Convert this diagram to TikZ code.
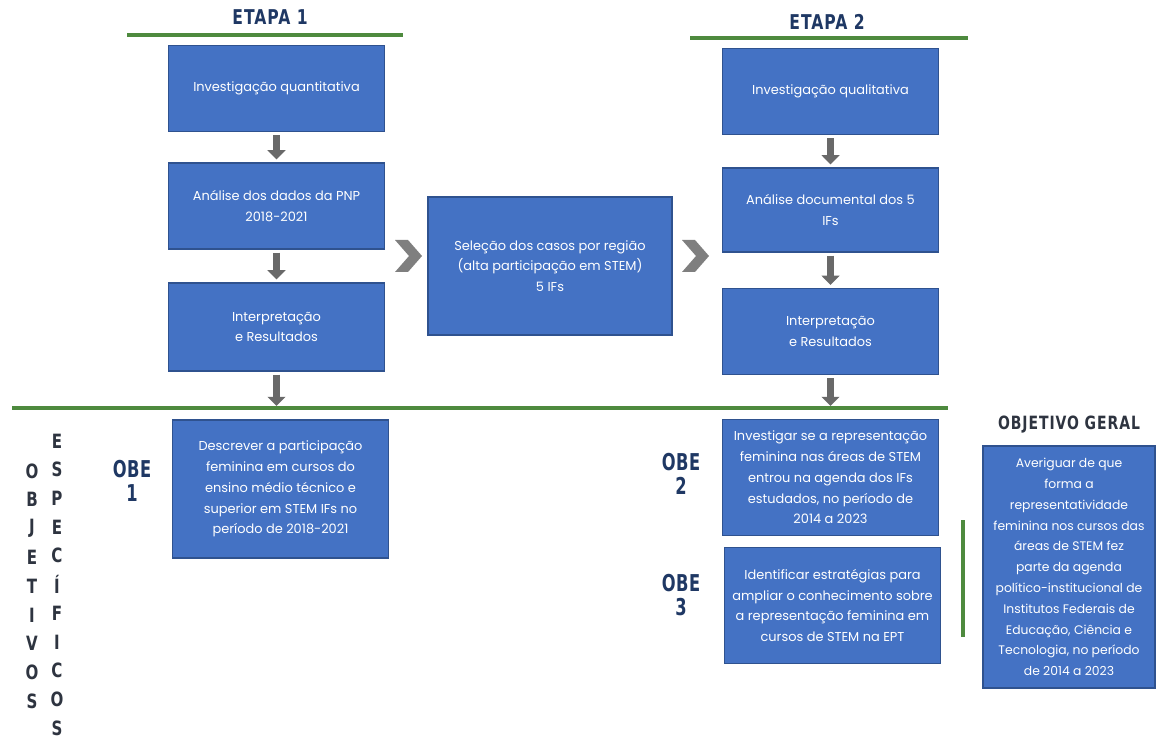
\documentclass[tikz,border=0pt]{standalone}
\usepackage{fontspec}
\setmainfont{Poppins}
\newfontfamily\headfont[FakeStretch=0.85,LetterSpace=5]{DejaVu Sans Condensed Bold}
\newfontfamily\obefont[FakeStretch=0.78,LetterSpace=2]{DejaVu Sans Condensed Bold}
\usetikzlibrary{arrows.meta,positioning}

\definecolor{boxblue}{HTML}{4472C4}
\definecolor{boxline}{HTML}{2F528F}
\definecolor{stagegreen}{HTML}{4E8A3E}
\definecolor{headnavy}{HTML}{1F3864}
\definecolor{headdark}{HTML}{2E3440}
\definecolor{arrgray}{HTML}{696969}
\definecolor{chevgray}{HTML}{7F7F7F}

\tikzset{
  box/.style={draw=boxline, line width=0.8pt, fill=boxblue, text=white,
    align=center, inner sep=3pt, font=\fontsize{9.2}{14.8}\selectfont},
  colbox/.style={box, minimum width=5.4cm, minimum height=2.15cm},
  objbox/.style={box, minimum width=5.38cm, minimum height=2.88cm},
  stagetitle/.style={text=headnavy, font=\headfont\fontsize{14.5}{16}\selectfont},
  obelabel/.style={text=headnavy, align=center, font=\obefont\fontsize{16.5}{17}\selectfont},
  vletter/.style={text=headdark, inner sep=0pt, font=\headfont\fontsize{14}{14}\selectfont},
  greenline/.style={draw=stagegreen, line width=2.2pt},
  downarr/.style={draw=arrgray, line width=5.6pt,
    -{Triangle[length=6.5pt,width=12.5pt]}, shorten <=2.2pt, shorten >=2.2pt},
  chevron/.style={fill=chevgray}
}

\begin{document}
\begin{tikzpicture}[x=0.025cm,y=-0.025cm]
  \useasboundingbox (0,0) rectangle (1156,740);

  % etapa 1
  \node[stagetitle] (etapa1) at (270,17) {ETAPA 1};
  \draw[greenline] (127,35) -- (403,35);
  \node[colbox] (inv1) at (276.5,88.5) {Investigação quantitativa};
  \node[colbox] (ana1) at (276.5,206) {Análise dos dados da PNP\\2018-2021};
  \node[colbox, minimum height=2.2cm] (int1) at (276.5,327) {Interpretação\\e Resultados};

  % selecao dos casos
  \node[box, minimum width=6.1cm, minimum height=3.45cm] (sel) at (550,266)
    {Seleção dos casos por região\\(alta participação em STEM)\\5 IFs};

  % etapa 2
  \node[stagetitle] (etapa2) at (827,22) {ETAPA 2};
  \draw[greenline] (690,38) -- (968,38);
  \node[colbox, minimum width=5.38cm] (inv2) at (830.5,91.5) {Investigação qualitativa};
  \node[colbox, minimum width=5.38cm, minimum height=2.1cm] (ana2) at (830.5,210) {Análise documental dos 5\\IFs};
  \node[colbox, minimum width=5.38cm] (int2) at (830.5,331.5) {Interpretação\\e Resultados};

  \draw[downarr] (inv1) -- (ana1);
  \draw[downarr] (ana1) -- (int1);
  \draw[downarr] (inv2) -- (ana2);
  \draw[downarr] (ana2) -- (int2);

  % linha divisoria
  \draw[greenline] (12,408) -- (948,408);
  \coordinate (end1) at (int1.south |- 0,406);
  \coordinate (end2) at (int2.south |- 0,406);
  \draw[downarr, shorten >=0pt] (int1) -- (end1);
  \draw[downarr, shorten >=0pt] (int2) -- (end2);

  % chevrons
  \coordinate (chevA) at (408,256);
  \coordinate (chevB) at (695,256);
  \fill[chevron, shift={(chevA)}] (-13,-16) -- (0,-16) -- (14,0) -- (0,16) -- (-13,16) -- (1,0) -- cycle;
  \fill[chevron, shift={(chevB)}] (-13,-16) -- (0,-16) -- (14,0) -- (0,16) -- (-13,16) -- (1,0) -- cycle;

  % objetivos especificos
  \foreach \ch [count=\i from 0] in {O,B,J,E,T,I,V,O,S}
    \node[vletter] (obj\i) at (32,471+28.8*\i) {\ch};
  \foreach \ch [count=\i from 0] in {E,S,P,E,C,Í,F,I,C,O,S}
    \node[vletter] (esp\i) at (57,441+28.7*\i) {\ch};

  \node[obelabel] (obe1) at (132,481) {OBE\\1};
  \node[objbox, minimum height=3.45cm] (obj1) at (280.5,489)
    {Descrever a participação\\feminina em cursos do\\ensino médio técnico e\\superior em STEM IFs no\\período de 2018-2021};

  \node[obelabel] (obe2) at (681,474) {OBE\\2};
  \node[objbox] (obj2) at (830.5,477.5)
    {Investigar se a representação\\feminina nas áreas de STEM\\entrou na agenda dos IFs\\estudados, no período de\\2014 a 2023};

  \node[obelabel] (obe3) at (681,595) {OBE\\3};
  \node[objbox] (obj3) at (832.5,605.5)
    {Identificar estratégias para\\ampliar o conhecimento sobre\\a representação feminina em\\cursos de STEM na EPT};

  \draw[greenline] (963,520) -- (963,637);

  % objetivo geral
  \node[vletter, font=\headfont\fontsize{13}{14}\selectfont] (geraltitle) at (1069,425) {OBJETIVO GERAL};
  \node[box, minimum width=4.3cm, minimum height=6.05cm, font=\fontsize{8.8}{14.8}\selectfont] (geral) at (1069,567)
    {Averiguar de que\\forma a\\representatividade\\feminina nos cursos das\\áreas de STEM fez\\parte da agenda\\político-institucional de\\Institutos Federais de\\Educação, Ciência e\\Tecnologia, no período\\de 2014 a 2023};

\end{tikzpicture}
\end{document}
